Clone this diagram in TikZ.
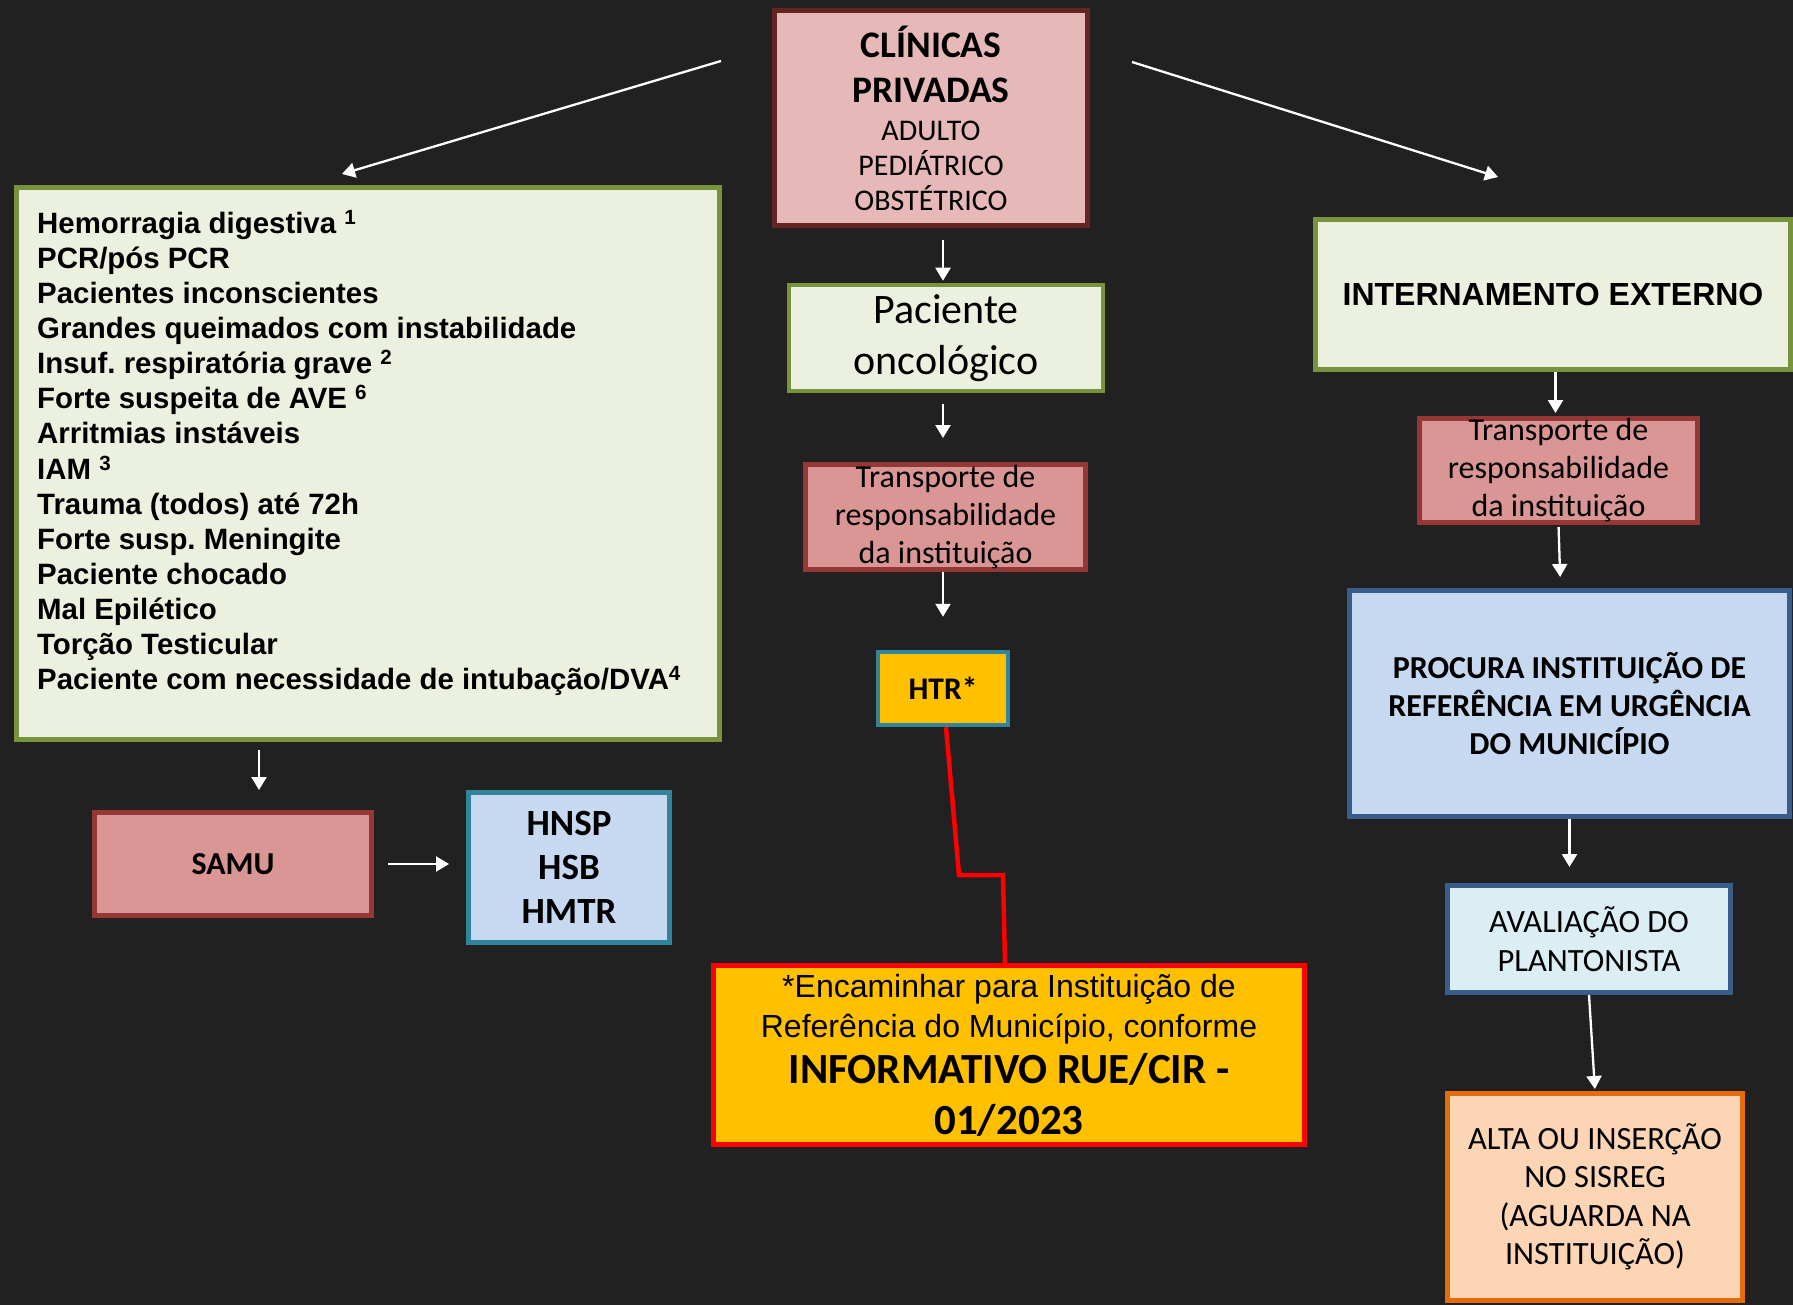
\documentclass[tikz,border=0pt]{standalone}
\usepackage{fontspec}
\setmainfont{Carlito}
\newfontfamily\arialfont{Liberation Sans}
\usepackage{tikz}
\usetikzlibrary{arrows.meta, positioning}
\frenchspacing

\definecolor{bgdark}{HTML}{212121}
\definecolor{pinkfill}{HTML}{E6B9B8}
\definecolor{maroondraw}{HTML}{652523}
\definecolor{palegreen}{HTML}{EBF1DE}
\definecolor{olivedraw}{HTML}{77933C}
\definecolor{rosefill}{HTML}{D99694}
\definecolor{rosedraw}{HTML}{953735}
\definecolor{skyfill}{HTML}{C6D9F1}
\definecolor{tealdraw}{HTML}{31849B}
\definecolor{amber}{HTML}{FFC000}
\definecolor{steeldraw}{HTML}{385D8A}
\definecolor{icefill}{HTML}{DBEEF4}
\definecolor{peachfill}{HTML}{FCD5B5}
\definecolor{orangedraw}{HTML}{E46C0A}

\newcommand{\fsz}[2]{\fontsize{#1}{#2}\selectfont}

\tikzset{
  box/.style={draw, rectangle, line width=5pt, inner sep=0pt, align=center},
  flow/.style={white, line width=2.3pt, -{Triangle[length=13pt,width=15pt]}},
}

\begin{document}
\begin{tikzpicture}[x=1pt, y=-1pt]
            \fill[bgdark] (0,0) rectangle (1793,1305);
            \useasboundingbox (0,0) rectangle (1793,1305);

            % middle column
            \node[box, draw=maroondraw, fill=pinkfill, minimum width=313pt, minimum height=215pt, font=\fsz{30}{35}] (clin) at (931,118)
                {\fsz{37.5}{44}\bfseries CLÍNICAS\\[10pt]\fsz{37.5}{44}\bfseries PRIVADAS\\[3pt] ADULTO\\ PEDIÁTRICO\\ OBSTÉTRICO};
            \node[box, line width=4.5pt, draw=olivedraw, fill=palegreen, minimum width=314pt, minimum height=106pt, font=\fsz{42}{51.5}] (onco) at (946,338) {Paciente\\oncológico};
            \node[box, draw=rosedraw, fill=rosefill, minimum width=280pt, minimum height=105pt, font=\fsz{32}{38}] (trM) at (945.5,517) {Transporte de\\responsabilidade\\da instituição};
            \node[box, line width=4.5pt, draw=tealdraw, fill=amber, minimum width=130pt, minimum height=73pt, font=\fsz{31.5}{36}\bfseries] (htr) at (943,688.5) {HTR*};
            \node[box, draw=red, fill=amber, minimum width=591pt, minimum height=179pt, font=\arialfont\fsz{32}{40}] (info) at (1009,1055)
                {*Encaminhar para Instituição de\\Referência do Município, conforme\\[6pt]{\rmfamily\bfseries\fsz{43}{50}INFORMATIVO RUE/CIR -}\\[11pt]{\rmfamily\bfseries\fsz{43}{50}01/2023}};

            % left column
            \node[box, draw=olivedraw, fill=palegreen, minimum width=703pt, minimum height=552pt] (crit) at (368,463.5) {};
            \node[anchor=north west, inner sep=0pt, align=left, font=\arialfont\bfseries\fsz{29.4}{35.1}] (critlist) at ([xshift=23pt,yshift=-25pt]crit.north west)
                {Hemorragia digestiva \textsuperscript{1}\\ PCR/pós PCR\\ Pacientes inconscientes\\ Grandes queimados com instabilidade\\
                 Insuf. respiratória grave \textsuperscript{2}\\ Forte suspeita de AVE \textsuperscript{6}\\ Arritmias instáveis\\ IAM \textsuperscript{3}\\
                 Trauma (todos) até 72h\\ Forte susp. Meningite\\ Paciente chocado\\ Mal Epilético\\ Torção Testicular\\
                 Paciente com necessidade de intubação/DVA\textsuperscript{4}};
            \node[box, draw=rosedraw, fill=rosefill, minimum width=277pt, minimum height=103pt, font=\fsz{32}{36}\bfseries] (samu) at (233,864) {SAMU};
            \node[box, draw=tealdraw, fill=skyfill, minimum width=201pt, minimum height=150pt, font=\fsz{37}{44}\bfseries] (hosp) at (569,867.5) {HNSP\\HSB\\HMTR};

            % right column
            \node[box, draw=olivedraw, fill=palegreen, minimum width=475pt, minimum height=150pt, font=\arialfont\bfseries\fsz{32}{38}] (intern) at (1553,294.5) {INTERNAMENTO EXTERNO};
            \node[box, draw=rosedraw, fill=rosefill, minimum width=278pt, minimum height=104pt, font=\fsz{32}{38}] (trR) at (1558.5,470.5) {Transporte de\\responsabilidade\\da instituição};
            \node[box, draw=steeldraw, fill=skyfill, minimum width=440pt, minimum height=226pt, font=\bfseries\fsz{32}{38}] (procura) at (1569.5,703.5)
                {PROCURA INSTITUIÇÃO DE\\REFERÊNCIA EM URGÊNCIA\\DO MUNICÍPIO};
            \node[box, draw=steeldraw, fill=icefill, minimum width=283pt, minimum height=107pt, font=\fsz{32.5}{39}] (aval) at (1589,939) {AVALIAÇÃO DO\\PLANTONISTA};
            \node[box, draw=orangedraw, fill=peachfill, minimum width=295pt, minimum height=207pt, font=\fsz{32.5}{38.5}] (alta) at (1595,1197)
                {ALTA OU INSERÇÃO\\NO SISREG\\(AGUARDA NA\\INSTITUIÇÃO)};

            % arrows
            \coordinate (clinL) at (721,61);
            \coordinate (critin) at (342,174);
            \coordinate (clinR) at (1132,62);
            \coordinate (internin) at (1498,177);
            \draw[flow] (clinL) -- (critin);
            \draw[flow] (clinR) -- (internin);

            \draw[flow, shorten <=12pt, shorten >=2pt] (clin.south -| htr.north) -- (onco.north -| htr.north);
            \draw[flow, shorten <=11pt, shorten >=24pt] (onco.south -| htr.north) -- (trM.north -| htr.north);
            \draw[flow, shorten >=33pt] (trM.south -| htr.north) -- (htr.north);

            \coordinate (samuin) at ([xshift=26pt]samu.north);
            \draw[flow, shorten <=8pt, shorten >=20pt] (samuin |- crit.south) -- (samuin);
            \draw[flow, shorten <=14pt, shorten >=17pt] (samu.east) -- (samu.east -| hosp.west);

            \draw[flow, shorten >=3pt] ([xshift=-3pt]trR.north |- intern.south) -- ([xshift=-3pt]trR.north);
            \draw[flow, shorten <=2pt, shorten >=11pt] (trR.south) -- ([xshift=-9pt]procura.north);
            \draw[flow, shorten >=16pt] (procura.south) -- (procura.south |- aval.north);
            \draw[flow, shorten >=2pt] (aval.south) -- (alta.north);

            \coordinate (kneeA) at (959,875);
            \coordinate (kneeB) at (1003,875);
            \draw[red, line width=4.5pt] ([xshift=3pt]htr.south) -- (kneeA) -- (kneeB) -- ([xshift=-4pt]info.north);
\end{tikzpicture}
\end{document}
